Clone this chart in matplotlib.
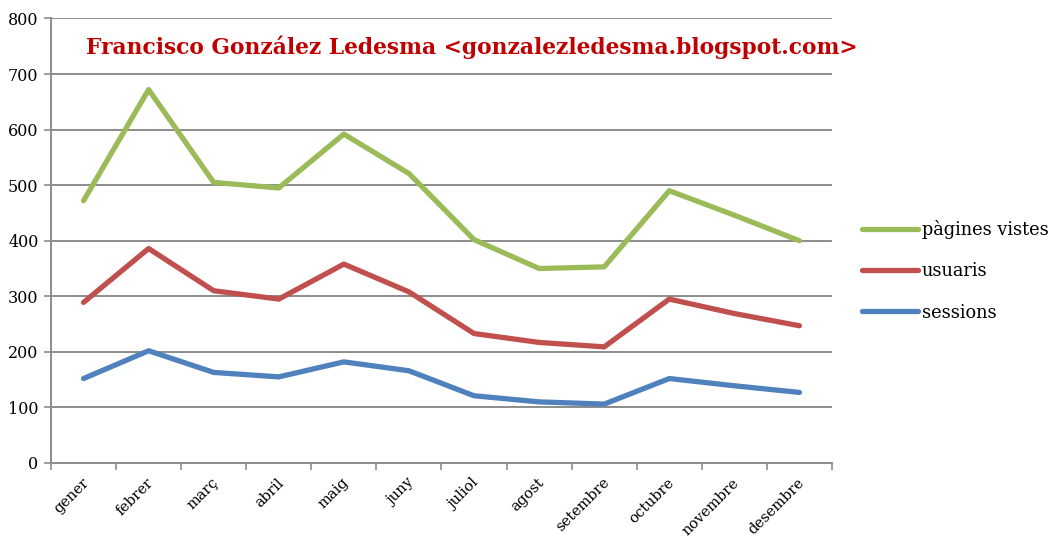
import matplotlib.pyplot as plt
import matplotlib.transforms as mtransforms

months = ["gener", "febrer", "març", "abril", "maig", "juny",
          "juliol", "agost", "setembre", "octubre", "novembre", "desembre"]
pagines_vistes = [472, 672, 505, 495, 592, 521, 402, 350, 353, 490, 446, 400]
usuaris = [289, 386, 310, 295, 358, 308, 233, 217, 209, 295, 269, 247]
sessions = [152, 202, 163, 155, 182, 166, 121, 110, 106, 152, 139, 127]

plt.rcParams['font.family'] = ['DejaVu Serif']

fig = plt.figure(figsize=(10.6, 5.36), dpi=100)
ax = fig.add_axes([0.0481, 0.1362, 0.7368, 0.8293])

x = range(len(months))
ax.plot(x, pagines_vistes, color='#9BBB59', lw=3.8, label='pàgines vistes', solid_capstyle='round')
ax.plot(x, usuaris, color='#C0504D', lw=3.8, label='usuaris', solid_capstyle='round')
ax.plot(x, sessions, color='#4F81BD', lw=3.8, label='sessions', solid_capstyle='round')

ax.set_ylim(0, 800)
ax.set_xlim(-0.5, len(months) - 0.5)
ax.set_yticks(range(0, 801, 100))
ax.yaxis.grid(True, color='#8c8c8c', lw=1.4)
ax.set_axisbelow(True)

# category boundaries as tick marks, month names centred between them
ax.set_xticks([i - 0.5 for i in range(len(months) + 1)])
ax.set_xticklabels([])
ax.set_xticks(list(x), minor=True)
ax.set_xticklabels(months, minor=True, rotation=45, ha='right',
                   rotation_mode='anchor', fontsize=10.5)
ax.tick_params(axis='x', which='minor', length=0, pad=9)
ax.tick_params(axis='x', which='major', length=5, width=1.2, color='#8c8c8c')
ax.tick_params(axis='y', length=5, width=1.2, color='#8c8c8c', labelsize=11.5, pad=4)
shift = mtransforms.ScaledTranslation(-2 / 100, 0, fig.dpi_scale_trans)
for lab in ax.get_xticklabels(minor=True):
    lab.set_transform(lab.get_transform() + shift)

for side in ['top', 'right']:
    ax.spines[side].set_visible(False)
for side in ['left', 'bottom']:
    ax.spines[side].set_color('#8c8c8c')
    ax.spines[side].set_linewidth(1.4)

fig.text(86 / 1060, 1 - 47 / 536, 'Francisco González Ledesma <gonzalezledesma.blogspot.com>',
         color='#C00000', fontsize=15.7, fontweight='bold', va='center', ha='left')

ax.legend(loc='center left', bbox_to_anchor=(862 / 1060, 1 - 271 / 536),
          bbox_transform=fig.transFigure, frameon=False, fontsize=12.8,
          handlelength=3.15, handletextpad=0.2, labelspacing=1.3,
          borderpad=0, borderaxespad=0)

fig.savefig('out.png', dpi=100)
